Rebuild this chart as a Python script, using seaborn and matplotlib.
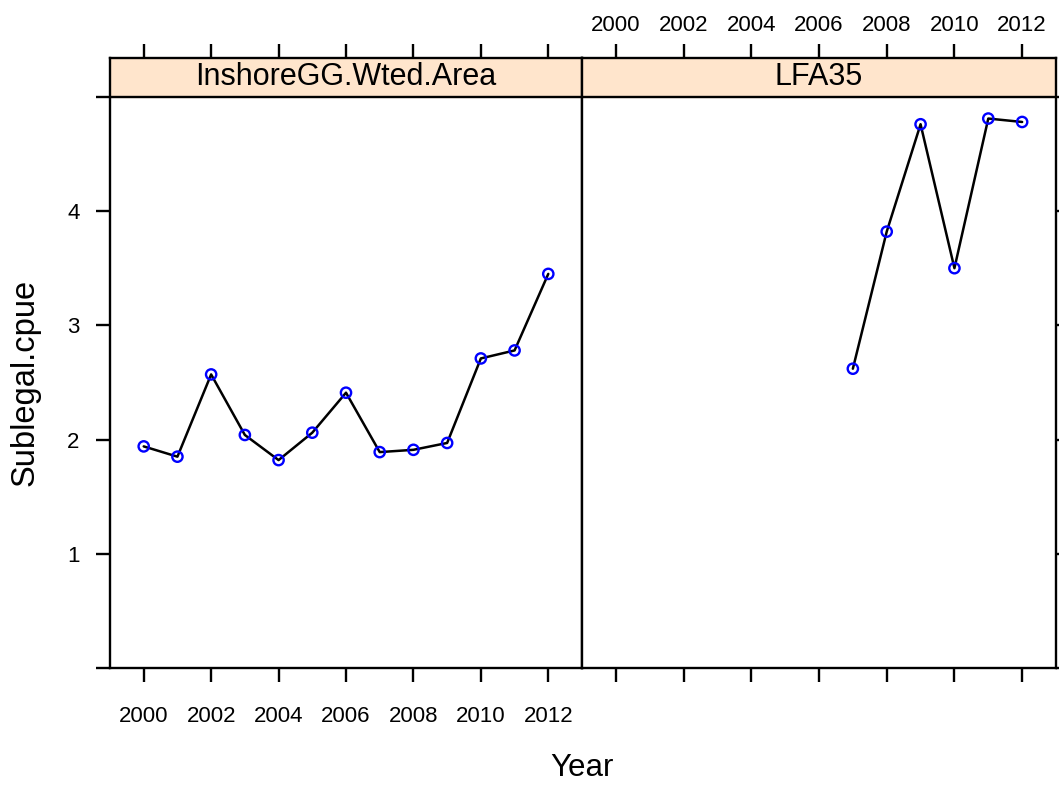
import pandas as pd
import matplotlib.pyplot as plt
import numpy as np
import seaborn as sns

# Sublegal cpue by year, two areas
inshore_years = [2000, 2001, 2002, 2003, 2004, 2005, 2006, 2007, 2008, 2009, 2010, 2011, 2012]
inshore_cpue = [1.94, 1.85, 2.57, 2.04, 1.82, 2.06, 2.41, 1.89, 1.91, 1.97, 2.71, 2.78, 3.45]
lfa35_years = [2007, 2008, 2009, 2010, 2011, 2012]
lfa35_cpue = [2.62, 3.82, 4.76, 3.50, 4.81, 4.78]
areas = ["InshoreGG.Wted.Area", "LFA35"]
year_ticks = [2000, 2002, 2004, 2006, 2008, 2010, 2012]
y_ticks = [0, 1, 2, 3, 4, 5]
y_labels = ["", "1", "2", "3", "4", ""]

df = pd.concat([
    pd.DataFrame({"Year": inshore_years, "cpue": inshore_cpue, "area": areas[0]}),
    pd.DataFrame({"Year": lfa35_years, "cpue": lfa35_cpue, "area": areas[1]}),
])

sns.set_style("white")
plt.rcParams["font.family"] = ["Liberation Sans", "DejaVu Sans"]
plt.rcParams["text.color"] = "black"
plt.rcParams["xtick.color"] = "black"
plt.rcParams["ytick.color"] = "black"
plt.rcParams["axes.labelcolor"] = "black"

g = sns.FacetGrid(df, col="area", col_order=areas, sharey=True, sharex=True, height=7.85, aspect=0.675)
g.map_dataframe(sns.lineplot, x="Year", y="cpue", color="black", linewidth=1.8)
g.map_dataframe(sns.scatterplot, x="Year", y="cpue", marker="o", s=55,
                facecolor="none", edgecolor="blue", linewidth=1.7, zorder=3)
fig = g.figure
fig.set_size_inches(10.59, 7.85)

top_ylim = 5.34
positions = [[110 / 1059, 1 - 668 / 785, 472 / 1059, 610 / 785],
             [582 / 1059, 1 - 668 / 785, 474 / 1059, 610 / 785]]

for i, ax in enumerate(g.axes.flat):
    ax.set_position(positions[i])
    ax.set_xlim(1999, 2013)
    ax.set_ylim(0, top_ylim)
    ax.set_title("")
    ax.set_xlabel("")
    ax.set_ylabel("")
    for sp in ax.spines.values():
        sp.set_visible(True)
        sp.set_linewidth(1.7)
        sp.set_color("black")
    # strip
    ax.axhspan(5, top_ylim, color="#FFE5CC", zorder=0)
    ax.axhline(5, color="black", linewidth=1.7, zorder=4)
    ax.text(2006, (5 + top_ylim) / 2, areas[i], ha="center", va="center", fontsize=22, color="black")
    ax.set_xticks(year_ticks)
    ax.set_xticklabels([str(y) for y in year_ticks])
    ax.set_yticks(y_ticks)
    ax.set_yticklabels(y_labels)
    ax.tick_params(direction="out", length=10, width=1.7, labelsize=16,
                   color="black", labelcolor="black")

left, right = g.axes.flat
left.tick_params(axis="x", bottom=True, top=True, labelbottom=True, labeltop=False, pad=17)
left.tick_params(axis="y", left=True, right=False, labelleft=True, labelright=False, pad=12)
right.tick_params(axis="x", bottom=True, top=True, labelbottom=False, labeltop=True, pad=6)
right.tick_params(axis="y", left=False, right=True, labelleft=False, labelright=False)

fig.text(582 / 1059, 1 - 768 / 785, "Year", ha="center", va="center", fontsize=22.5)
fig.text(25 / 1059, 1 - 382 / 785, "Sublegal.cpue", ha="center", va="center", rotation=90, fontsize=23.5)

fig.savefig("out.png", dpi=100)
